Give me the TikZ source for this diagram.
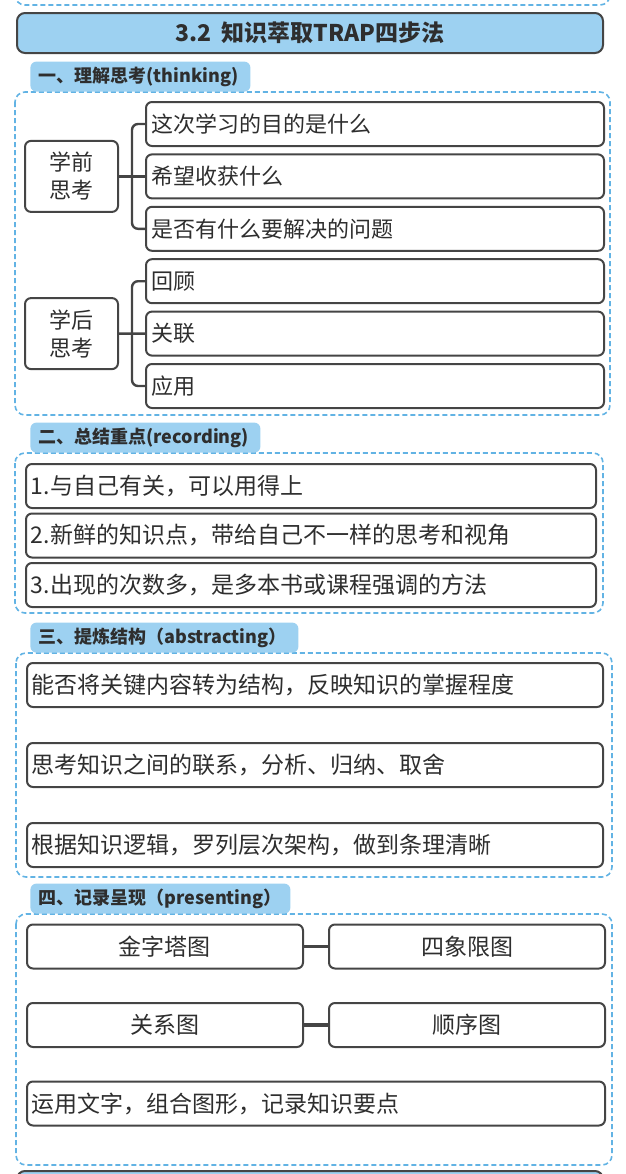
\documentclass[tikz,border=0pt]{standalone}
\usepackage{fontspec}
\setmainfont{Noto Sans CJK SC}
\usepackage{tikz}
\usetikzlibrary{calc}

\definecolor{barblue}{HTML}{9DD1F1}
\definecolor{dashblue}{HTML}{62B3E4}
\definecolor{boxgray}{HTML}{454545}
\definecolor{txtgray}{HTML}{2E2E2E}

\tikzset{
  section/.style={draw=dashblue, line width=0.8pt, dash pattern=on 2.5pt off 1.5pt, rounded corners=5pt},
  titlebar/.style={draw=boxgray, fill=barblue, line width=1pt, rounded corners=4pt,
    text=txtgray, font=\fontsize{11.5}{13}\selectfont\bfseries},
  tabhead/.style={fill=barblue, rounded corners=3pt, anchor=south west, minimum height=15pt,
    inner xsep=4pt, inner ysep=1pt, align=left, text=txtgray, font=\fontsize{9}{11}\selectfont\bfseries},
  item/.style={draw=boxgray, line width=1pt, rounded corners=3pt, fill=white, anchor=west,
    minimum height=22pt, inner sep=2.5pt, align=left, text=txtgray,
    font=\fontsize{11.5}{13}\selectfont},
  lead/.style={draw=boxgray, line width=1pt, rounded corners=3pt, fill=white,
    minimum width=46.5pt, minimum height=35.5pt, align=center, text=txtgray,
    font=\fontsize{11}{14}\selectfont},
  link/.style={draw=boxgray, line width=1.2pt}
}

\begin{document}
\begin{tikzpicture}[x=0.5pt, y=-0.5pt]
    \useasboundingbox (0,0) rectangle (626,1174);
    \clip (0,0) rectangle (626,1174);

    \draw[section] (15,-40) rectangle (610,5);
    \node[titlebar, minimum width=293pt, minimum height=20pt] (title) at (310,33) {3.2\ \ 知识萃取TRAP四步法};

    % thinking
    \draw[section] (15,92) rectangle (610,415);
    \node[tabhead, text width=102pt] (tab1) at (30,92) {一、理解思考(thinking)};
    \foreach \txt [count=\i] in {这次学习的目的是什么, 希望收获什么, 是否有什么要解决的问题, 回顾, 关联, 应用}
    {
      \node[item, text width=224pt, font=\fontsize{11}{13}\selectfont] (think\i) at (145, {124+52.4*(\i-1)}) {\txt};
    }
    \node[lead] (before) at (71.5, 176.4) {学前\\思考};
    \node[lead] (after) at (71.5, 333.6) {学后\\思考};
    \draw[link, rounded corners=3pt] (think1.west) -- ++(-13,0) |- (think3.west);
    \draw[link] (before.east) -- (think2.west);
    \draw[link, rounded corners=3pt] (think4.west) -- ++(-13,0) |- (think6.west);
    \draw[link] (after.east) -- (think5.west);

    % recording
    \draw[section] (15,453) rectangle (603,613);
    \node[tabhead, text width=107pt] (tab2) at (30,453) {二、总结重点(recording)};
    \foreach \txt [count=\i] in {1.与自己有关，可以用得上, 2.新鲜的知识点，带给自己不一样的思考和视角, 3.出现的次数多，是多本书或课程强调的方法}
    {
      \node[item, text width=280pt] (record\i) at (25, {486+49.5*(\i-1)}) {\txt};
    }

    % abstracting
    \draw[section] (16,653) rectangle (612,877);
    \node[tabhead, text width=126pt] (tab3) at (30,653) {三、提炼结构（abstracting）};
    \foreach \txt [count=\i] in {能否将关键内容转为结构，反映知识的掌握程度, 思考知识之间的联系，分析、归纳、取舍, 根据知识逻辑，罗列层次架构，做到条理清晰}
    {
      \node[item, text width=283pt] (abstr\i) at (26, {685+80*(\i-1)}) {\txt};
    }

    % presenting
    \draw[section] (16,914) rectangle (612,1165);
    \node[tabhead, text width=122pt] (tab4) at (30,914) {四、记录呈现（presenting）};
    \node[item, text width=133pt, align=center] (pyramid) at (26,946.5) {金字塔图};
    \node[item, text width=133pt, align=center] (quadrant) at (328,946.5) {四象限图};
    \node[item, text width=133pt, align=center] (relation) at (26,1025) {关系图};
    \node[item, text width=133pt, align=center] (sequence) at (328,1025) {顺序图};
    \node[item, text width=284pt] (present) at (26,1103.5) {运用文字，组合图形，记录知识要点};
    \draw[link, line width=1.6pt] (pyramid.east) -- (quadrant.west);
    \draw[link, line width=1.6pt] (relation.east) -- (sequence.west);

    \draw[titlebar] (17,1171) rectangle (603,1230);
\end{tikzpicture}
\end{document}
